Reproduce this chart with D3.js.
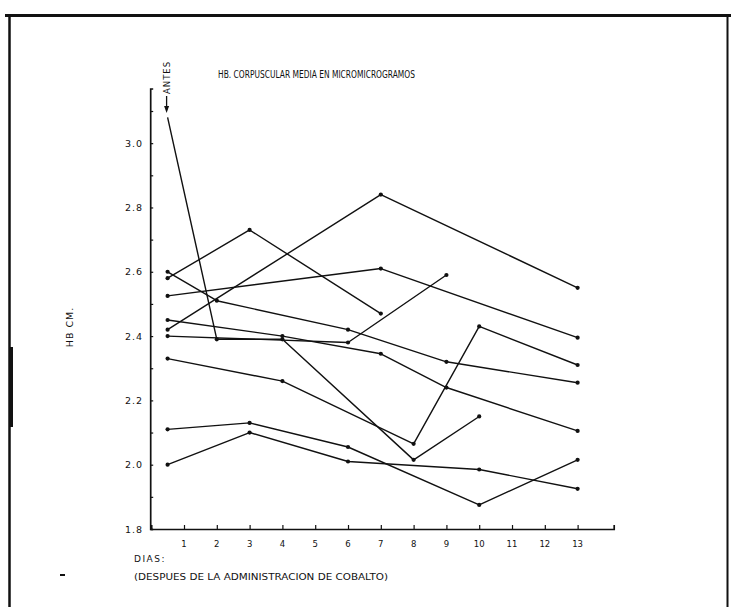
<!DOCTYPE html>
<html>
<head>
<meta charset="utf-8">
<script src="https://cdn.jsdelivr.net/npm/d3@7"></script>
<style>
  html, body { margin: 0; padding: 0; background: #fff; }
  svg { display: block; }
  text { font-family: "DejaVu Sans", "Liberation Sans", sans-serif; fill: #111; }
</style>
</head>
<body>
<svg id="chart" width="734" height="607"></svg>
<script>
// Days after cobalt administration (x axis tick labels)
const dias = [1, 2, 3, 4, 5, 6, 7, 8, 9, 10, 11, 12, 13];
// Position used for the "ANTES" (before treatment) readings
const antes = 0.5;
// Y axis labels (mean corpuscular Hb)
const yLabels = [1.8, 2.0, 2.2, 2.4, 2.6, 2.8, 3.0];
const yMinor = [1.9, 2.1, 2.3, 2.5, 2.7, 2.9, 3.1];

// One series per patient: day of each reading and its value
const diasA = [antes, 2, 4, 8, 10];    const valA = [3.08, 2.39, 2.39, 2.015, 2.15];
const diasB = [antes, 2, 6, 9, 13];    const valB = [2.60, 2.51, 2.42, 2.32, 2.255];
const diasC = [antes, 3, 7];           const valC = [2.58, 2.73, 2.47];
const diasD = [antes, 7, 13];          const valD = [2.525, 2.61, 2.395];
const diasE = [antes, 4, 7, 9, 13];    const valE = [2.45, 2.40, 2.345, 2.24, 2.105];
const diasF = [antes, 7, 13];          const valF = [2.42, 2.84, 2.55];
const diasG = [antes, 6, 9];           const valG = [2.40, 2.38, 2.59];
const diasH = [antes, 4, 8, 10, 13];   const valH = [2.33, 2.26, 2.065, 2.43, 2.31];
const diasI = [antes, 3, 6, 10, 13];   const valI = [2.11, 2.13, 2.055, 1.875, 2.015];
const diasJ = [antes, 3, 6, 10, 13];   const valJ = [2.00, 2.10, 2.01, 1.985, 1.925];

const series = [
  [diasA, valA], [diasB, valB], [diasC, valC], [diasD, valD], [diasE, valE],
  [diasF, valF], [diasG, valG], [diasH, valH], [diasI, valI], [diasJ, valJ]
].map(([d, v]) => d.map((x, i) => ({ x, v: v[i] })));

const svg = d3.select("#chart");
const ink = "#111";

// Page frame
svg.append("line").attr("x1", 5).attr("x2", 731).attr("y1", 15.5).attr("y2", 15.5)
  .attr("stroke", ink).attr("stroke-width", 3);
svg.append("line").attr("x1", 9.5).attr("x2", 9.5).attr("y1", 14).attr("y2", 607)
  .attr("stroke", ink).attr("stroke-width", 2.5);
svg.append("line").attr("x1", 11.5).attr("x2", 11.5).attr("y1", 347).attr("y2", 427)
  .attr("stroke", ink).attr("stroke-width", 3);
svg.append("line").attr("x1", 727.5).attr("x2", 727.5).attr("y1", 14).attr("y2", 607)
  .attr("stroke", ink).attr("stroke-width", 2);

// Scales
const x = d3.scaleLinear().domain([0, 14.1]).range([151.2, 613.7]);
const y = d3.scaleLinear().domain([1.8, 3.17]).range([529, 88.5]);

// Y axis
const yAxis = d3.axisRight(y)
  .tickValues(yLabels.concat(yMinor))
  .tickSize(3)
  .tickFormat("");
const gy = svg.append("g").attr("transform", `translate(${x(0) - 1},0)`).call(yAxis);
gy.select(".domain").attr("stroke", ink).attr("stroke-width", 1.7);
gy.selectAll(".tick line").attr("stroke", ink).attr("stroke-width", 1.2);

svg.append("g").selectAll("text").data(yLabels).join("text")
  .attr("x", 143).attr("y", d => y(d) + 3.5)
  .attr("text-anchor", "end")
  .attr("font-size", 9.5)
  .attr("letter-spacing", 1)
  .text(d => d.toFixed(1));

// X axis
const xAxis = d3.axisTop(x).tickValues(dias).tickSize(4).tickFormat("");
const gx = svg.append("g").attr("transform", `translate(0,${y(1.8)})`).call(xAxis);
gx.select(".domain").attr("stroke", ink).attr("stroke-width", 1.7);
gx.selectAll(".tick line").attr("stroke", ink).attr("stroke-width", 1.2);

svg.append("g").selectAll("text").data(dias).join("text")
  .attr("x", d => x(d)).attr("y", 547)
  .attr("text-anchor", "middle")
  .attr("font-size", 8.5)
  .text(d => d);

// Series lines and points
const line = d3.line().x(d => x(d.x)).y(d => y(d.v));
svg.append("g").selectAll("path").data(series).join("path")
  .attr("d", line)
  .attr("fill", "none")
  .attr("stroke", ink)
  .attr("stroke-width", 1.4)
  .attr("stroke-linejoin", "round");

svg.append("g").selectAll("circle")
  .data(series.flat().filter(d => !(d.x === antes && d.v > 3)))
  .join("circle")
  .attr("cx", d => x(d.x)).attr("cy", d => y(d.v))
  .attr("r", 2.1).attr("fill", ink);

// "ANTES" marker with arrow pointing to the first reading
const ax = x(antes) - 1;
svg.append("text")
  .attr("transform", `translate(${ax + 3.5},94) rotate(-90)`)
  .attr("font-size", 8.5)
  .attr("letter-spacing", 1)
  .text("ANTES");
svg.append("line").attr("x1", ax).attr("x2", ax).attr("y1", 96).attr("y2", 110)
  .attr("stroke", ink).attr("stroke-width", 1.3);
svg.append("path")
  .attr("d", `M${ax - 2.5},106 L${ax},113 L${ax + 2.5},106 Z`)
  .attr("fill", ink);

// Title
svg.append("text")
  .attr("x", 218).attr("y", 78)
  .attr("font-size", 11)
  .attr("textLength", 197).attr("lengthAdjust", "spacingAndGlyphs")
  .text("HB. CORPUSCULAR MEDIA EN MICROMICROGRAMOS");

// Y axis title
svg.append("text")
  .attr("transform", "translate(73,327) rotate(-90)")
  .attr("text-anchor", "middle")
  .attr("font-size", 9.5)
  .attr("letter-spacing", 1)
  .text("HB CM.");

// X axis captions
svg.append("text")
  .attr("x", 134).attr("y", 562)
  .attr("font-size", 9)
  .attr("letter-spacing", 1.5)
  .text("DIAS:");
svg.append("text")
  .attr("x", 134).attr("y", 580)
  .attr("font-size", 9)
  .attr("textLength", 254).attr("lengthAdjust", "spacingAndGlyphs")
  .text("(DESPUES DE LA ADMINISTRACION DE COBALTO)");

// Stray mark in the left margin
svg.append("line").attr("x1", 60).attr("x2", 65).attr("y1", 575).attr("y2", 575)
  .attr("stroke", ink).attr("stroke-width", 2);
</script>
</body>
</html>
